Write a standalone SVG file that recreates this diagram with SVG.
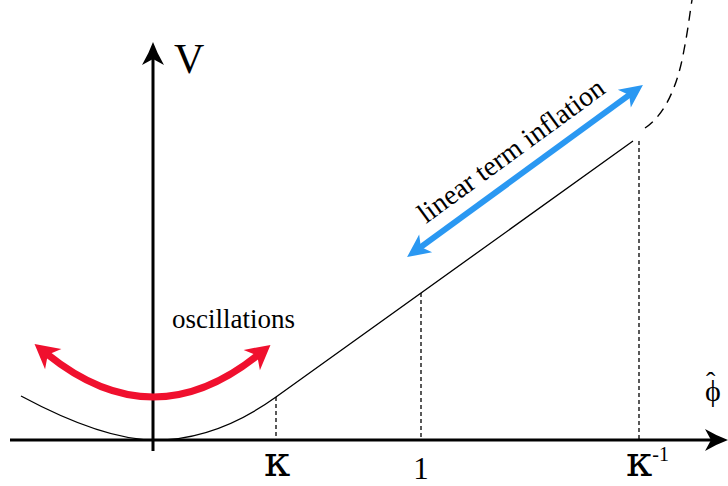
<svg xmlns="http://www.w3.org/2000/svg" width="728" height="486" viewBox="0 0 728 486">
<style>
.axis{stroke:#000;stroke-width:3;fill:none}
.curve{stroke:#000;stroke-width:1.3;fill:none}
.dash{stroke:#000;stroke-width:1.3;fill:none;stroke-dasharray:4 3}
.dcurve{stroke:#000;stroke-width:1.4;fill:none;stroke-dasharray:10 7}
.lbl{font-family:"Liberation Serif","Times New Roman",serif;fill:#000}
.kap{font-family:"DejaVu Serif","Liberation Serif",serif;fill:#000}
</style>
<defs>
<marker id="axhead" markerUnits="userSpaceOnUse" viewBox="-24 -12 26 24" refX="-14" refY="0" markerWidth="26" markerHeight="24" orient="auto" overflow="visible">
<path d="M0,0 Q-11,-4 -23,-11 L-17,0 L-23,11 Q-11,4 0,0 Z" fill="#000"/>
</marker>
<marker id="redhead" markerUnits="userSpaceOnUse" viewBox="-10 -14 30 28" refX="0" refY="0" markerWidth="30" markerHeight="28" orient="auto-start-reverse" overflow="visible">
<path d="M16,0 L-8,-13 L-1,0 L-8,13 Z" fill="#f0102e"/>
</marker>
<marker id="bluehead" markerUnits="userSpaceOnUse" viewBox="-10 -14 30 28" refX="0" refY="0" markerWidth="30" markerHeight="28" orient="auto-start-reverse" overflow="visible">
<path d="M16,0 L-7,-11 L-1,0 L-7,11 Z" fill="#2a98f2"/>
</marker>
</defs>
<g id="connectors">
<line class="axis" x1="10" y1="440" x2="714" y2="440" marker-end="url(#axhead)"/>
<line class="axis" x1="153" y1="451" x2="153" y2="56" marker-end="url(#axhead)"/>
<path class="curve" d="M21,396 C62,418 112,440 155,440 C195,440 236,425.7 276,397 L633,141"/>
<path class="dcurve" d="M645,128 C665,115 678,85 684,50 C688,30 690,12 692,0"/>
<line class="dash" x1="276" y1="397" x2="276" y2="440"/>
<line class="dash" x1="421" y1="293" x2="421" y2="440"/>
<line class="dash" x1="639" y1="141" x2="639" y2="440"/>
<path d="M47,354 Q153,439.5 258,355" fill="none" stroke="#f0102e" stroke-width="7" marker-start="url(#redhead)" marker-end="url(#redhead)"/>
<line x1="420" y1="247.6" x2="630" y2="94.4" stroke="#2a98f2" stroke-width="6" marker-start="url(#bluehead)" marker-end="url(#bluehead)"/>
</g>
<g id="label-V"><text class="lbl" x="174" y="73" font-size="42">V</text></g>
<g id="label-phi"><text class="lbl" x="705" y="401" font-size="30">ϕ<tspan x="706" y="391" font-size="28">ˆ</tspan></text></g>
<g id="label-kappa"><text class="kap" x="277" y="476" font-size="42" text-anchor="middle">κ</text></g>
<g id="label-one"><text class="lbl" x="421" y="479" font-size="31" text-anchor="middle">1</text></g>
<g id="label-kappainv"><text class="kap" x="626" y="476" font-size="42">κ<tspan class="lbl" font-size="20" dy="-15">-1</tspan></text></g>
<g id="label-osc"><text class="lbl" x="172" y="328" font-size="27">oscillations</text></g>
<g id="label-linear"><text class="lbl" x="426" y="224" font-size="28" transform="rotate(-36.1 426 224)">linear term inflation</text></g>
</svg>
